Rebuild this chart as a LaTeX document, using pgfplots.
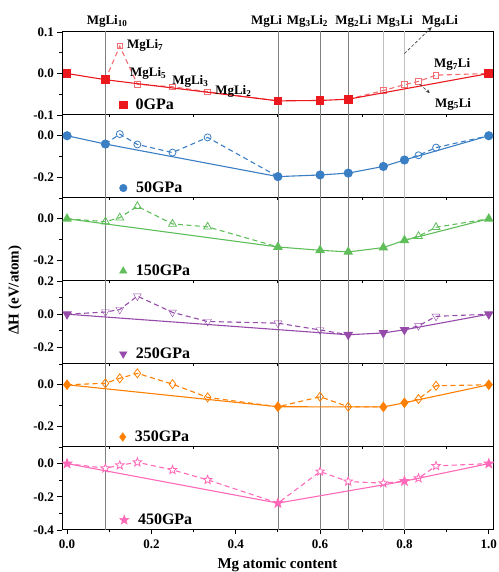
\documentclass[border=0pt]{standalone}
\usepackage{fontspec}
\setmainfont{Liberation Serif}
\usepackage{pgfplots}
\pgfplotsset{compat=1.18}
\usetikzlibrary{arrows.meta}

\definecolor{c0}{RGB}{235,25,30}
\definecolor{c0l}{RGB}{242,110,115}
\definecolor{c50}{RGB}{58,126,195}
\definecolor{c150}{RGB}{95,190,90}
\definecolor{c250}{RGB}{150,75,170}
\definecolor{c350}{RGB}{255,127,0}
\definecolor{c450}{RGB}{255,105,185}

\pgfdeclareplotmark{fstar}{%
  \pgfpathmoveto{\pgfpointpolar{90}{\pgfplotmarksize}}%
  \pgfpathlineto{\pgfpointpolar{126}{0.42\pgfplotmarksize}}%
  \pgfpathlineto{\pgfpointpolar{162}{\pgfplotmarksize}}%
  \pgfpathlineto{\pgfpointpolar{198}{0.42\pgfplotmarksize}}%
  \pgfpathlineto{\pgfpointpolar{234}{\pgfplotmarksize}}%
  \pgfpathlineto{\pgfpointpolar{270}{0.42\pgfplotmarksize}}%
  \pgfpathlineto{\pgfpointpolar{306}{\pgfplotmarksize}}%
  \pgfpathlineto{\pgfpointpolar{342}{0.42\pgfplotmarksize}}%
  \pgfpathlineto{\pgfpointpolar{18}{\pgfplotmarksize}}%
  \pgfpathlineto{\pgfpointpolar{54}{0.42\pgfplotmarksize}}%
  \pgfpathclose
  \pgfusepathqfillstroke}

\newcommand{\tfont}{\bfseries\fontsize{13bp}{13bp}\selectfont}
\newcommand{\lfont}{\bfseries\fontsize{15bp}{15bp}\selectfont}
\newcommand{\gfont}{\bfseries\fontsize{16bp}{16bp}\selectfont}

\pgfplotsset{
  panel/.style={
    width=431bp, height=83bp, scale only axis,
    xmin=-0.012, xmax=1.01,
    clip mode=individual,
    axis line style={line width=1bp},
    xtick={0,0.2,0.4,0.6,0.8,1}, minor xtick={0.1,0.3,0.5,0.7,0.9},
    tick align=outside, xtick pos=bottom, ytick pos=left,
    major tick length=4.5bp, minor tick length=2.5bp,
    every tick/.style={black, line width=0.9bp},
    ticklabel style={font=\tfont},
    xticklabel style={yshift=-2bp},
    /pgf/number format/.cd, fixed, fixed zerofill, precision=1, assume math mode=true,
    /pgfplots/.cd,
    legend style={draw=none, fill=none, at={(0.133,0.12)}, anchor=west,
      font=\gfont, inner sep=0pt},
    legend cell align=left,
  },
  upper/.style={xmajorticks=false, xminorticks=false},
  dl/.style={forget plot, line width=1.1bp, dash pattern=on 5bp off 3.5bp},
  sl/.style={forget plot, line width=1.1bp, solid},
  hm/.style={forget plot, only marks, mark options={solid, fill=white, line width=0.8bp}},
}

\newcommand{\vlines}{%
  \addplot[forget plot, black!50, line width=0.5bp] coordinates {(0.0909,-1) (0.0909,1)};
  \addplot[forget plot, black!50, line width=0.5bp] coordinates {(0.5,-1) (0.5,1)};
  \addplot[forget plot, black!50, line width=0.5bp] coordinates {(0.6,-1) (0.6,1)};
  \addplot[forget plot, black!50, line width=0.5bp] coordinates {(0.6667,-1) (0.6667,1)};
  \addplot[forget plot, black!25, line width=1bp] coordinates {(0.75,-1) (0.75,1)};
  \addplot[forget plot, black!25, line width=1bp] coordinates {(0.8,-1) (0.8,1)};
}

\begin{document}
\begin{tikzpicture}
% ---------------- 0 GPa
\begin{axis}[panel, upper, at={(0,415bp)},
  ymin=-0.1, ymax=0.1, ytick={-0.1,0,0.1}, minor ytick={-0.05,0.05}]
\addlegendimage{only marks, mark=square*, mark size=3.6bp, c0}
\addlegendentry{\hspace{7bp}0GPa}
\vlines
\addplot[dl, c0l] coordinates {(0.0909,-0.015) (0.125,0.066) (0.1667,-0.026) (0.25,-0.032) (0.3333,-0.044) (0.5,-0.066)};
\addplot[dl, c0l] coordinates {(0.6667,-0.062) (0.75,-0.041) (0.8,-0.027) (0.8333,-0.019) (0.875,-0.004) (1,0)};
\addplot[hm, c0l, mark=square, mark size=2.8bp] coordinates {(0.125,0.066) (0.1667,-0.026) (0.25,-0.032) (0.3333,-0.044) (0.75,-0.041) (0.8,-0.027) (0.8333,-0.019) (0.875,-0.004)};
\addplot[sl, c0, mark=square*, mark size=3.8bp] coordinates {(0,0) (0.0909,-0.015) (0.5,-0.066) (0.6,-0.065) (0.6667,-0.062) (1,0)};
\begin{scope}[font=\tfont]
\node[anchor=base] at (axis cs:0.095,0.119) {MgLi\textsubscript{10}};
\node[anchor=base] at (axis cs:0.473,0.119) {MgLi};
\node[anchor=base] at (axis cs:0.570,0.119) {Mg\textsubscript{3}Li\textsubscript{2}};
\node[anchor=base] at (axis cs:0.679,0.119) {Mg\textsubscript{2}Li};
\node[anchor=base] at (axis cs:0.777,0.119) {Mg\textsubscript{3}Li};
\node[anchor=base] at (axis cs:0.884,0.119) {Mg\textsubscript{4}Li};
\node[anchor=base west, inner sep=0pt] at (axis cs:0.142,0.061) {MgLi\textsubscript{7}};
\node[anchor=base west, inner sep=0pt] at (axis cs:0.149,-0.007) {MgLi\textsubscript{5}};
\node[anchor=base west, inner sep=0pt] at (axis cs:0.249,-0.026) {MgLi\textsubscript{3}};
\node[anchor=base west, inner sep=0pt] at (axis cs:0.351,-0.050) {MgLi\textsubscript{2}};
\node[anchor=base west, inner sep=0pt] at (axis cs:0.870,0.015) {Mg\textsubscript{7}Li};
\node[anchor=base west, inner sep=0pt] at (axis cs:0.872,-0.081) {Mg\textsubscript{5}Li};
\end{scope}
\draw[gray!40!black, line width=0.6bp, densely dashed, -{Stealth[length=5bp,width=4bp]}] (axis cs:0.80,0.048) -- (axis cs:0.865,0.112);
\draw[gray!40!black, line width=0.6bp, densely dashed, -{Stealth[length=4bp,width=3.5bp]}] (axis cs:0.836,-0.026) -- (axis cs:0.860,-0.047);
\end{axis}
% ---------------- 50 GPa
\begin{axis}[panel, upper, at={(0,332bp)},
  ymin=-0.3, ymax=0.1, ytick={-0.2,0}, minor ytick={-0.3,-0.1,0.1}]
\addlegendimage{only marks, mark=*, mark size=3.8bp, c50}
\addlegendentry{\hspace{7bp}50GPa}
\vlines
\addplot[dl, c50] coordinates {(0.0909,-0.040) (0.125,0.008) (0.1667,-0.042) (0.25,-0.081) (0.3333,-0.008) (0.5,-0.197)};
\addplot[dl, c50] coordinates {(0.8,-0.117) (0.8333,-0.094) (0.875,-0.057) (1,0)};
\addplot[hm, c50, mark=o, mark size=3.5bp] coordinates {(0.125,0.008) (0.1667,-0.042) (0.25,-0.081) (0.3333,-0.008) (0.8333,-0.094) (0.875,-0.057)};
\addplot[sl, c50, mark=*, mark size=4bp] coordinates {(0,0) (0.0909,-0.040) (0.5,-0.197) (0.6,-0.189) (0.6667,-0.180) (0.75,-0.148) (0.8,-0.117) (1,0)};
\end{axis}
% ---------------- 150 GPa
\begin{axis}[panel, upper, at={(0,249bp)},
  ymin=-0.3, ymax=0.1, ytick={-0.2,0}, minor ytick={-0.3,-0.1,0.1}]
\addlegendimage{only marks, mark=triangle*, mark size=4.3bp, c150}
\addlegendentry{\hspace{7bp}150GPa}
\vlines
\addplot[dl, c150] coordinates {(0,0) (0.0909,-0.014) (0.125,0.005) (0.1667,0.060) (0.25,-0.025) (0.3333,-0.039) (0.5,-0.136)};
\addplot[dl, c150] coordinates {(0.8,-0.104) (0.8333,-0.084) (0.875,-0.041) (1,0)};
\addplot[hm, c150, mark=triangle, mark size=4.5bp] coordinates {(0.0909,-0.014) (0.125,0.005) (0.1667,0.060) (0.25,-0.025) (0.3333,-0.039) (0.8333,-0.084) (0.875,-0.041)};
\addplot[sl, c150, mark=triangle*, mark size=4.5bp] coordinates {(0,0) (0.5,-0.136) (0.6,-0.152) (0.6667,-0.160) (0.75,-0.139) (0.8,-0.104) (1,0)};
\end{axis}
% ---------------- 250 GPa
\begin{axis}[panel, upper, at={(0,166bp)},
  ymin=-0.3, ymax=0.2, ytick={-0.2,0,0.2}, minor ytick={-0.3,-0.1,0.1}]
\addlegendimage{only marks, mark=triangle*, mark size=4.3bp, mark options={rotate=180}, c250}
\addlegendentry{\hspace{7bp}250GPa}
\vlines
\addplot[dl, c250] coordinates {(0,0) (0.0909,0.013) (0.125,0.028) (0.1667,0.109) (0.25,0.011) (0.3333,-0.044) (0.5,-0.054) (0.6,-0.095) (0.6667,-0.124)};
\addplot[dl, c250] coordinates {(0.8,-0.094) (0.8333,-0.070) (0.875,-0.013) (1,0)};
\addplot[hm, c250, mark=triangle, mark size=4.5bp, mark options={rotate=180}] coordinates {(0.0909,0.013) (0.125,0.028) (0.1667,0.109) (0.25,0.011) (0.3333,-0.044) (0.5,-0.054) (0.6,-0.095) (0.8333,-0.070) (0.875,-0.013)};
\addplot[sl, c250, mark=triangle*, mark size=4.5bp, mark options={rotate=180}] coordinates {(0,0) (0.6667,-0.124) (0.75,-0.113) (0.8,-0.094) (1,0)};
\end{axis}
% ---------------- 350 GPa
\begin{axis}[panel, upper, at={(0,83bp)},
  ymin=-0.3, ymax=0.1, ytick={-0.2,0}, minor ytick={-0.3,-0.1,0.1}]
\addlegendimage{only marks, mark=diamond*, mark size=4.3bp, c350}
\addlegendentry{\hspace{7bp}350GPa}
\vlines
\addplot[dl, c350] coordinates {(0,0) (0.0909,0.007) (0.125,0.031) (0.1667,0.055) (0.25,0.003) (0.3333,-0.061) (0.5,-0.106) (0.6,-0.058) (0.6667,-0.106) (0.75,-0.107)};
\addplot[dl, c350] coordinates {(0.8,-0.087) (0.8333,-0.069) (0.875,-0.005) (1,0)};
\addplot[hm, c350, mark=diamond, mark size=4.5bp] coordinates {(0.0909,0.007) (0.125,0.031) (0.1667,0.055) (0.25,0.003) (0.3333,-0.061) (0.6,-0.058) (0.6667,-0.106) (0.8333,-0.069) (0.875,-0.005)};
\addplot[sl, c350, mark=diamond*, mark size=4.5bp] coordinates {(0,0) (0.5,-0.106) (0.75,-0.107) (0.8,-0.087) (1,0)};
\end{axis}
% ---------------- 450 GPa
\begin{axis}[panel, at={(0,0bp)},
  ymin=-0.4, ymax=0.1, ytick={-0.4,-0.2,0}, minor ytick={-0.3,-0.1,0.1},
  xlabel={Mg atomic content}, xlabel style={font=\lfont, yshift=-2bp}]
\addlegendimage{only marks, mark=fstar, mark size=5bp, c450, fill=c450}
\addlegendentry{\hspace{7bp}450GPa}
\vlines
\addplot[dl, c450] coordinates {(0,0) (0.0909,-0.028) (0.125,-0.010) (0.1667,0.008) (0.25,-0.038) (0.3333,-0.098) (0.5,-0.238) (0.6,-0.048) (0.6667,-0.108) (0.75,-0.118) (0.8,-0.106) (0.8333,-0.088) (0.875,-0.014) (1,0)};
\addplot[hm, c450, mark=fstar, mark size=4.5bp] coordinates {(0.0909,-0.028) (0.125,-0.010) (0.1667,0.008) (0.25,-0.038) (0.3333,-0.098) (0.6,-0.048) (0.6667,-0.108) (0.75,-0.118) (0.8333,-0.088) (0.875,-0.014)};
\addplot[sl, c450, mark=fstar, mark size=4.5bp, mark options={fill=c450}] coordinates {(0,0) (0.5,-0.238) (0.8,-0.106) (1,0)};
\end{axis}
\node[rotate=90, font=\lfont] at (-47bp,240bp) {ΔH (eV/atom)};
\pgfresetboundingbox
\path[use as bounding box] (-62bp,-42bp) rectangle (437bp,530bp);
\end{tikzpicture}
\end{document}
